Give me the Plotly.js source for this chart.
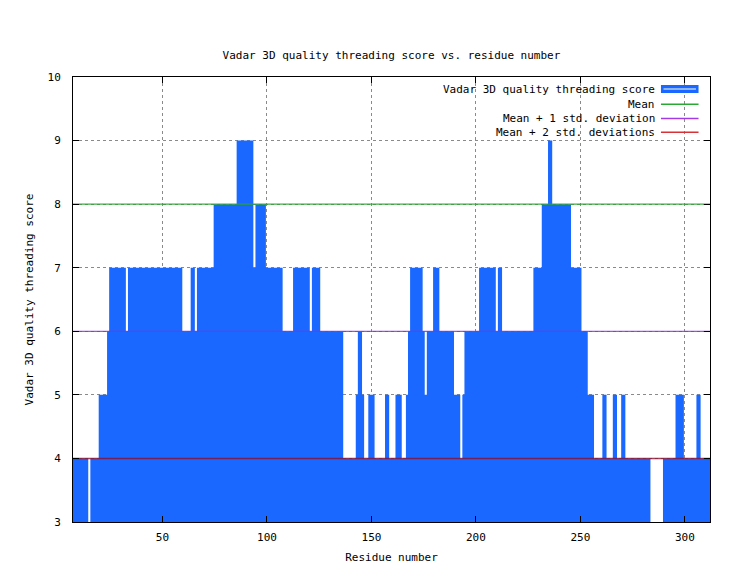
<!DOCTYPE html>
<html><head><meta charset="utf-8">
<script src="https://cdn.plot.ly/plotly-3.0.1.min.js"></script>
<style>html,body{margin:0;padding:0;background:#fff}#chart{width:736px;height:569px}</style>
</head><body><div id="chart"></div>
<script>
// Run-length encoded threading scores: a run starts at a residue and keeps its score until the next run
const runStartResidues = [7,15,16,20,24,25,33,34,60,64,66,67,75,86,94,95,100,108,113,121,122,126,137,143,144,146,147,149,152,157,159,162,165,167,168,169,175,176,177,180,183,190,193,194,195,202,210,211,213,228,232,235,237,246,251,254,257,261,263,266,268,270,272,284,290,296,300,306,308];
const runScores = [4,3,4,5,6,7,6,7,6,7,6,7,8,9,7,8,7,6,7,6,7,6,4,5,6,5,4,5,4,5,4,5,4,5,6,7,6,5,6,7,6,5,4,5,6,7,6,7,6,7,8,9,8,7,6,5,4,5,4,5,4,5,4,3,4,5,4,5,4];
const lastResidue = 312;
const meanScore = 8;
const meanPlus1Std = 6;
const meanPlus2Std = 4;
const xTicks = [50,100,150,200,250,300];
const yTicks = [3,4,5,6,7,8,9,10];
const legendLabels = ['Vadar 3D quality threading score','Mean','Mean + 1 std. deviation','Mean + 2 std. deviations'];

const xRange = [7.2, 312];
const yRange = [3, 10];

// expand runs to per-residue scores
const residues = [], scores = [];
let k = 0;
for (let r = runStartResidues[0]; r <= lastResidue; r++) {
  while (k + 1 < runStartResidues.length && runStartResidues[k + 1] <= r) k++;
  residues.push(r); scores.push(runScores[k]);
}
// step edges (each residue occupies [r-0.5, r+0.5])
const stepX = residues.map(r => r - 0.5).concat([residues[residues.length - 1] + 0.5]);
const stepY = scores.concat([scores[scores.length - 1]]);

const FONT = 'DejaVu Sans Mono, Liberation Mono, monospace';
const TXT = '#000';
const BLUE = '#1a68ff';
const GREEN = 'rgba(40,165,45,0.9)';
const PURPLE = 'rgba(140,45,215,0.82)';
const RED = 'rgba(140,15,45,0.8)';

const traces = [
  {x: stepX, y: stepY, type: 'scatter', mode: 'lines', line: {shape: 'hv', width: 0, color: BLUE},
   fill: 'tozeroy', fillcolor: BLUE, hoverinfo: 'x+y', name: legendLabels[0]},
  {x: xRange, y: [meanScore, meanScore], mode: 'lines', line: {color: GREEN, width: 1.3}, name: legendLabels[1]},
  {x: xRange, y: [meanPlus1Std, meanPlus1Std], mode: 'lines', line: {color: PURPLE, width: 1.3}, name: legendLabels[2]},
  {x: xRange, y: [meanPlus2Std, meanPlus2Std], mode: 'lines', line: {color: RED, width: 1.4}, name: legendLabels[3]}
];

// custom gnuplot-style key (text right-aligned, sample on the right)
const keyTextX = 0.917;
const keyRowsY = [0.973, 0.939, 0.907, 0.876];
const keySampleX = [0.923, 0.982];
const keyColors = [BLUE, 'rgb(40,170,50)', 'rgb(160,60,225)', 'rgb(215,50,55)'];
const annotations = legendLabels.map((t, i) => ({
  text: t, xref: 'paper', yref: 'paper', x: keyTextX, y: keyRowsY[i],
  xanchor: 'right', yanchor: 'middle', showarrow: false,
  font: {family: FONT, size: 11, color: TXT}
}));
const shapes = [
  {type: 'rect', xref: 'paper', yref: 'paper', x0: 0.572, x1: 0.998, y0: 0.866, y1: 0.998,
   fillcolor: 'white', line: {width: 0}, layer: 'below'},
  {type: 'rect', xref: 'paper', yref: 'paper', x0: keySampleX[0], x1: keySampleX[1], y0: keyRowsY[0] - 0.009, y1: keyRowsY[0] + 0.009,
   fillcolor: BLUE, line: {width: 0}},
  {type: 'line', xref: 'paper', yref: 'paper', x0: keySampleX[0] + 0.004, x1: keySampleX[1] - 0.004, y0: keyRowsY[0], y1: keyRowsY[0],
   line: {color: 'white', width: 1.2}}
];
for (let i = 1; i < 4; i++) {
  shapes.push({type: 'line', xref: 'paper', yref: 'paper', x0: keySampleX[0], x1: keySampleX[1], y0: keyRowsY[i], y1: keyRowsY[i],
    line: {color: keyColors[i], width: 1.5}});
}

const axisCommon = {
  showline: true, mirror: 'ticks', linecolor: '#000', linewidth: 1,
  ticks: 'inside', ticklen: 6, tickcolor: '#000', tickwidth: 1,
  showgrid: true, gridcolor: '#8a8a8a', griddash: 'dot', gridwidth: 1,
  zeroline: false, tickfont: {family: FONT, size: 11, color: TXT}
};

const layout = {
  width: 736, height: 569,
  margin: {l: 73, r: 26, t: 77, b: 47},
  paper_bgcolor: '#fff', plot_bgcolor: '#fff',
  showlegend: false,
  font: {family: FONT, size: 11, color: TXT},
  title: {text: 'Vadar 3D quality threading score vs. residue number', font: {family: FONT, size: 11, color: TXT},
    xref: 'paper', x: 0.5, xanchor: 'center', yref: 'container', y: 1 - 55 / 569, yanchor: 'middle'},
  xaxis: Object.assign({}, axisCommon, {range: xRange, tickvals: xTicks, ticktext: xTicks.map(String),
    ticklabelstandoff: 5,
    title: {text: 'Residue number', font: {family: FONT, size: 11, color: TXT}, standoff: 10}}),
  yaxis: Object.assign({}, axisCommon, {range: yRange, tickvals: yTicks, ticktext: yTicks.map(String),
    ticklabelstandoff: 9,
    title: {text: 'Vadar 3D quality threading score', font: {family: FONT, size: 11, color: TXT}, standoff: 11}}),
  annotations: annotations,
  shapes: shapes
};

Plotly.newPlot('chart', traces, layout, {displayModeBar: false, staticPlot: true});
</script>
</body></html>
